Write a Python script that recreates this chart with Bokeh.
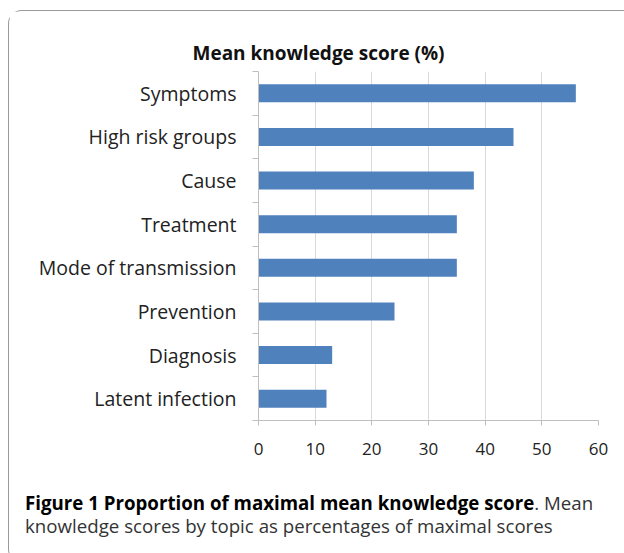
from bokeh.plotting import figure
from bokeh.models import (Range1d, FixedTicker, Div, ColumnDataSource)
from bokeh.layouts import column
from bokeh.embed import file_html
from bokeh.resources import INLINE

# ---- data ----
categories = ["Symptoms", "High risk groups", "Cause", "Treatment",
              "Mode of transmission", "Prevention", "Diagnosis", "Latent infection"]
scores = [56, 45, 38, 35, 35, 24, 13, 12]
x_ticks = [0, 10, 20, 30, 40, 50, 60]
title_text = "Mean knowledge score (%)"
caption_bold = "Figure 1 Proportion of maximal mean knowledge score"
caption_rest_1 = ". Mean"
caption_rest_2 = "knowledge scores by topic as percentages of maximal scores"

FONT = "Open Sans"
GRID = "#d9d9d9"
AXIS = "#bfbfbf"
BAR = "#4f81bd"

n = len(categories)
# category slots: first category on top
slot_centers = [n - 0.5 - i for i in range(n)]
slot_bounds = list(range(n + 1))

source = ColumnDataSource(data=dict(cat=categories, score=scores, y=slot_centers))

p = figure(width=615, height=460, output_backend="svg", toolbar_location=None,
           x_range=Range1d(0, 60), y_range=Range1d(0, n),
           min_border_left=249, min_border_right=26,
           min_border_top=60, min_border_bottom=51)

p.hbar(y="y", right="score", height=0.41, source=source,
       fill_color=BAR, line_color=None)

# title
p.title.text = title_text
p.title.align = "left"
p.title.offset = -66
p.title.text_font = FONT
p.title.text_font_size = "19px"
p.title.text_font_style = "bold"
p.title.text_color = "#111111"
p.title.standoff = 11

p.outline_line_color = None
p.background_fill_color = "white"
p.border_fill_color = "white"

# x axis
p.xaxis.ticker = FixedTicker(ticks=x_ticks)
p.xaxis.axis_line_color = AXIS
p.xaxis.major_tick_line_color = AXIS
p.xaxis.major_tick_out = 5
p.xaxis.major_tick_in = 0
p.xaxis.minor_tick_line_color = None
p.xaxis.major_label_text_font = FONT
p.xaxis.major_label_text_font_size = "17px"
p.xaxis.major_label_text_color = "#222222"
p.xaxis.major_label_standoff = 17
p.xgrid.ticker = FixedTicker(ticks=x_ticks)
p.xgrid.grid_line_color = GRID

# y axis: labels at slot centres, tick marks at slot boundaries
p.ygrid.grid_line_color = None
p.yaxis.ticker = FixedTicker(ticks=slot_centers, minor_ticks=slot_bounds)
p.yaxis.major_label_overrides = {c: lab for c, lab in zip(slot_centers, categories)}
p.yaxis.axis_line_color = AXIS
p.yaxis.major_tick_line_color = None
p.yaxis.minor_tick_line_color = AXIS
p.yaxis.minor_tick_out = 6
p.yaxis.minor_tick_in = 0
p.yaxis.major_label_text_font = FONT
p.yaxis.major_label_text_font_size = "19.5px"
p.yaxis.major_label_text_color = "#222222"
p.yaxis.major_label_standoff = 16

caption = Div(
    text=(f'<div style="font-family:\'Open Sans\';font-size:18.7px;line-height:23px;'
          f'color:#333333;padding:15px 0 0 11px;">'
          f'<span style="font-weight:bold;color:#000000;">{caption_bold}</span>'
          f'<span>{caption_rest_1}</span><br>'
          f'<span>{caption_rest_2}</span></div>'),
    width=615, height=81)

layout = column(p, caption,
                styles={"border-top": "1px solid #999999",
                        "border-left": "1px solid #999999",
                        "border-bottom": "1px solid #999999",
                        "border-radius": "14px 0 0 14px",
                        "margin": "10px 0 0 8px",
                        "background-color": "white"})

open("out.html", "w").write(file_html(layout, INLINE))
